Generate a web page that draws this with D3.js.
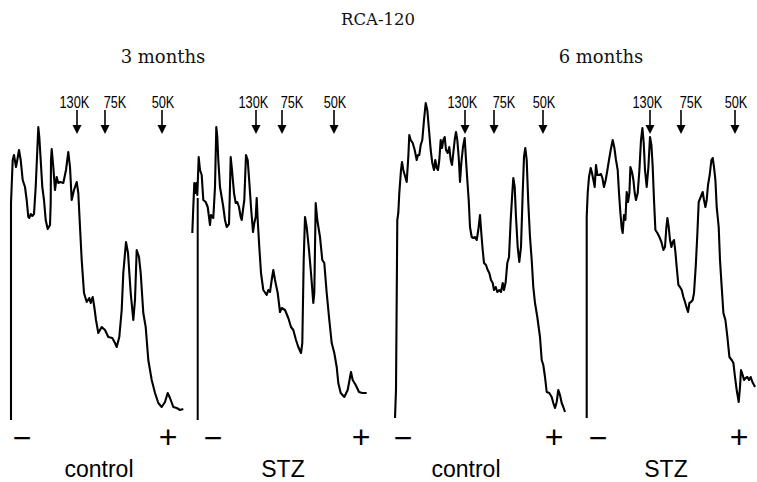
<!DOCTYPE html>
<html><head><meta charset="utf-8">
<script src="https://cdn.jsdelivr.net/npm/d3@7"></script>
<style>body{margin:0;background:#fff} svg{display:block}</style>
</head><body><svg id="c" width="757" height="482"></svg>
<script>
// ---- data (distance along scan, density in arbitrary units) ----
const title = "RCA-120";
const periods = ["3 months", "6 months"];
const groupLabels = ["control", "STZ", "control", "STZ"];
const markerLabels = ["130K", "75K", "50K"];
const markerPos = [[66, 94, 151], [64, 90, 142], [70, 99, 148], [63.3, 94.3, 148.3]];
const polarity = ["\u2212", "+"];

const trace3mControl = [[0,0],[0,217],[1.7,260],[3,265],[5,253],[6.3,260],[8,270],[9.7,260],[11.7,240],[14,233],[15.7,220],[17.3,203],[18.3,202],[19.7,206],[21.3,204],[23,206],[24.7,233],[26.3,270],[27.3,293],[28.3,283],[29.7,260],[31.3,233],[33,220],[34.7,200],[36.7,191],[39,195],[39.7,217],[40,260],[40.7,271],[42.3,253],[44,230],[45.7,243],[47.3,237],[49,238],[52.3,237],[55,250],[57.3,268],[59,253],[60.7,220],[63,230],[65.7,238],[67.3,227],[69,193],[70.7,160],[73,127],[75.7,118],[78.3,122],[79.7,117],[81.7,123],[83.3,113],[85,100],[87.3,87],[90.7,93],[94,90],[97.3,83],[101.3,82],[104,77],[105.7,73],[108.3,83],[110.7,110],[112.3,147],[115,178],[117,167],[119.7,127],[122.3,100],[124,120],[125.7,170],[128,163],[129.7,147],[132.3,107],[134.7,93],[137.3,60],[140.7,40],[144,27],[147.3,17],[150.7,13],[154,18],[156.7,27],[159,22],[162.3,13],[165.7,12],[169,10],[172.3,11]];

const trace3mSTZ = [[0.3,187],[1.3,213],[2.3,237],[3.3,227],[4.3,237],[5.3,225],[6.7,263],[8,250],[9.7,245],[11.3,220],[13.7,218],[15.7,213],[17,203],[18,195],[19,205],[21.3,202],[23,233],[24.3,293],[25.3,283],[26.3,260],[28,233],[31.3,213],[33,200],[34.7,193],[37,196],[38,233],[38.7,263],[40,250],[42,227],[43.7,217],[45.3,218],[47,213],[48.7,203],[49.7,200],[50.7,208],[52.3,220],[54,265],[55.7,260],[57.3,238],[59,213],[61,188],[62.3,197],[63.7,203],[64.7,222],[65.7,200],[67.3,173],[69,147],[71.3,130],[74.7,125],[76.3,130],[78,128],[79.7,140],[81.3,150],[83,140],[85.7,127],[88,108],[89.7,112],[93,110],[96.3,102],[99,93],[101.3,90],[104,80],[106.3,73],[109,67],[110.3,77],[111.7,160],[113,203],[114.7,193],[117,170],[119,147],[121.3,117],[122.3,127],[123.7,217],[125.3,200],[128,183],[130.3,160],[132.3,157],[134.7,127],[137.3,100],[139.7,77],[142.3,67],[144.7,53],[146.3,37],[148.7,27],[152.3,23],[155.7,30],[159,48],[160.7,40],[163.7,35],[167,28],[170.3,27],[174.7,27]];
const riser3mSTZ = [[5.7,0],[5.7,222]];

const trace6mControl = [[0,2],[1,30],[2.3,200],[3.3,207],[4.3,227],[6,250],[7,258],[8.3,250],[10.3,243],[11.7,238],[13.3,263],[14.3,285],[15.7,280],[17.7,277],[19.7,270],[21.7,260],[23,265],[24.3,265],[25.7,275],[27.3,280],[29,300],[30.7,317],[32.3,310],[34,290],[35.7,270],[37.3,257],[39,250],[40.3,260],[41.7,252],[43,250],[44.3,260],[45.7,280],[47,272],[48.3,280],[49.7,283],[51,270],[52.7,267],[54.3,273],[55.7,260],[57,255],[58.3,267],[59.7,280],[61,288],[62.3,280],[63.7,263],[65,238],[66.3,257],[68,273],[69.7,282],[71,260],[72.3,240],[73.7,220],[75,193],[76.7,183],[78.3,182],[80,183],[81.7,180],[83.3,190],[85,205],[86.3,187],[87.7,170],[89,157],[91,155],[92.7,150],[94.3,147],[96,140],[97.7,137],[99,130],[100.7,133],[102.3,128],[104.3,130],[106,128],[107.7,137],[109,130],[110.7,138],[112.3,157],[114,163],[115.7,200],[117.3,227],[118.3,242],[119.7,233],[121,203],[122.7,173],[124.3,158],[126,173],[127.7,227],[129,263],[130.3,272],[131.7,260],[133.3,217],[135,183],[136.7,160],[138.3,133],[140,117],[142.3,103],[145,83],[146.7,60],[148.3,55],[150,43],[151.7,28],[154.3,27],[156.7,23],[158.3,17],[160,12],[161.7,18],[163.3,30],[165,25],[166.7,17],[168.3,13],[170,8]];

const trace6mSTZ = [[0,2],[0,203],[1,227],[2.3,243],[4,252],[5.3,247],[6.7,240],[8,233],[9.3,255],[10.7,245],[12.3,245],[14.3,246],[15.7,242],[17.3,233],[19,240],[20.7,250],[22.3,260],[24,270],[26,280],[27.7,272],[29.3,260],[31,250],[32.3,227],[33.7,207],[35,192],[36,187],[37.3,205],[38.7,200],[40,228],[41.3,218],[42.7,227],[43.7,253],[45.3,248],[46.7,240],[48,227],[49.3,220],[51,227],[52.7,250],[54.3,280],[55.7,292],[57,277],[58.3,250],[60,233],[61.7,253],[63.3,283],[64.7,275],[66,253],[67.3,220],[68.7,190],[70.7,187],[72.7,183],[74.7,178],[76.7,170],[78.3,173],[79.7,193],[80.7,202],[82,193],[83.3,180],[84.7,173],[86,178],[87.3,180],[88.7,168],[90,153],[91.7,135],[93.3,133],[95,130],[96.7,123],[98.3,118],[100,112],[101.3,108],[102.7,117],[104.3,118],[106,120],[107.3,127],[109,153],[110.7,187],[112,218],[114,223],[116,228],[117.3,220],[118.7,213],[120,220],[121.3,235],[123,245],[124.7,260],[126,262],[127.3,253],[128.7,240],[130,213],[132,193],[133.3,160],[135,133],[136.7,107],[138.7,100],[140.7,83],[142.7,63],[145,60],[146.7,57],[148.3,43],[150,30],[152,18],[153.3,33],[154.3,50],[156,45],[157.3,40],[159,42],[160.7,43],[162.3,40],[164,43],[165.7,38],[167.3,35],[168.3,33]];

const traces = [trace3mControl, trace3mSTZ, trace6mControl, trace6mSTZ];
const risers = [null, riser3mSTZ, null, null];

// ---- layout ----
const svg = d3.select("#c");
const panelLeft = [11, 192, 395, 586.7];
const baseY = 420, topY = 60;
const y = d3.scaleLinear().domain([0, 360]).range([baseY, topY]);
const minusX = [22, 213, 403, 598];
const plusX = [168, 361, 554, 739];
const labelX = [99, 283, 466, 666];
const markerLabelShift = [-2.6, 10, 1];

svg.append("text").attr("x", 378).attr("y", 25).attr("text-anchor", "middle")
  .attr("font-family", "DejaVu Serif").attr("font-size", 16.5).attr("fill", "#111").text(title);
const periodX = [163, 601];
periods.forEach((p, i) => svg.append("text").attr("x", periodX[i]).attr("y", 63)
  .attr("text-anchor", "middle").attr("font-family", "DejaVu Serif").attr("font-size", 18)
  .attr("fill", "#111").text(p));

traces.forEach((tr, i) => {
  const x = d3.scaleLinear().domain([0, 175]).range([panelLeft[i], panelLeft[i] + 175]);
  const g = svg.append("g");
  const line = d3.line().x(d => x(d[0])).y(d => y(d[1])).curve(d3.curveLinear);
  g.append("path").datum(tr).attr("d", line).attr("fill", "none")
    .attr("stroke", "#000").attr("stroke-width", 2.1).attr("stroke-linejoin", "round");
  if (risers[i]) g.append("path").datum(risers[i]).attr("d", line).attr("fill", "none")
    .attr("stroke", "#000").attr("stroke-width", 2);
  // markers
  markerPos[i].forEach((m, k) => {
    const mx = x(m);
    g.append("text").attr("transform", `translate(${mx + markerLabelShift[k]},108) scale(0.8,1)`)
      .attr("text-anchor", "middle").attr("font-family", "Liberation Sans, Arial, sans-serif")
      .attr("font-size", 16).attr("fill", "#000").text(markerLabels[k]);
    g.append("line").attr("x1", mx).attr("x2", mx).attr("y1", 110).attr("y2", 128)
      .attr("stroke", "#000").attr("stroke-width", 1.6);
    g.append("path").attr("d", `M${mx - 4.5},125L${mx + 4.5},125L${mx},134Z`).attr("fill", "#000");
  });
  // polarity
  g.append("text").attr("x", minusX[i]).attr("y", 449).attr("text-anchor", "middle")
    .attr("font-family", "Liberation Sans, Arial, sans-serif").attr("font-size", 32).text(polarity[0]);
  g.append("text").attr("x", plusX[i]).attr("y", 448).attr("text-anchor", "middle")
    .attr("font-family", "Liberation Sans, Arial, sans-serif").attr("font-size", 32).text(polarity[1]);
  g.append("text").attr("x", labelX[i]).attr("y", 477).attr("text-anchor", "middle")
    .attr("font-family", "Liberation Sans, Arial, sans-serif").attr("font-size", 23).text(groupLabels[i]);
});
</script></body></html>
